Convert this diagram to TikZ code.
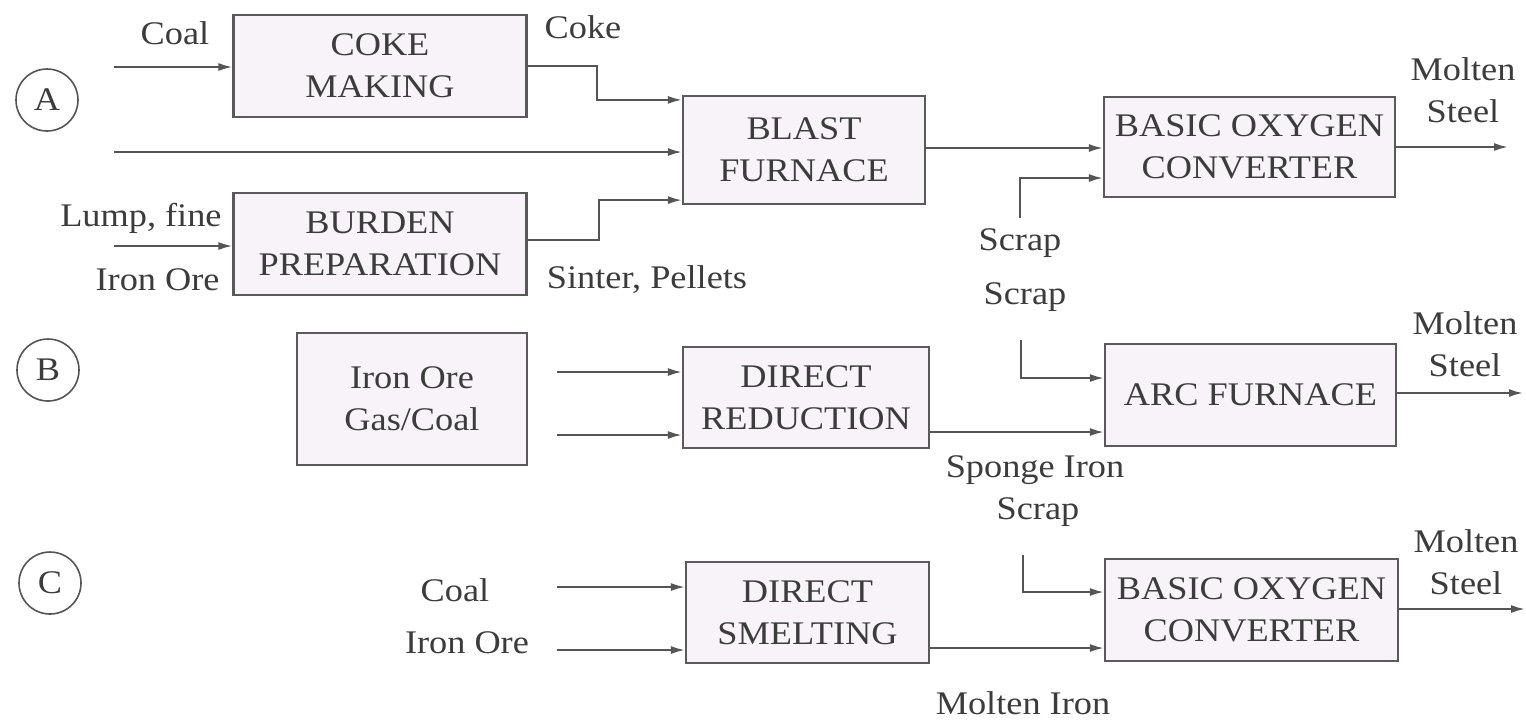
\documentclass[tikz,border=0pt]{standalone}
\usepackage{fontspec}
\setmainfont{Liberation Serif}[FakeStretch=1.1]
\usetikzlibrary{arrows.meta,calc}
\definecolor{txt}{HTML}{3C3C3C}
\definecolor{linec}{HTML}{555555}
\definecolor{boxc}{HTML}{5A5A5A}
\definecolor{boxfill}{HTML}{F7F3F8}
\newcommand\diafont{\fontsize{16.5}{21}\selectfont}
\begin{document}
\begin{tikzpicture}[x=0.5pt,y=-0.5pt,
  proc/.style={draw=boxc, fill=boxfill, line width=1.1pt, align=center, inner sep=0pt, font=\diafont, text=txt},
  lab/.style={text=txt, font=\diafont, align=center, inner sep=0pt},
  arr/.style={draw=linec, line width=1pt, -{Latex[length=7pt,width=4pt]}},
  circ/.style={circle, draw=linec, line width=0.8pt, minimum size=31pt, inner sep=0pt, font=\diafont, text=txt}]
\useasboundingbox (0,0) rectangle (1526,720);
\fill[white] (0,0) rectangle (1526,720);

% ---------- circles ----------
\node[circ] (cA) at (47,100) {A};
\node[circ] (cB) at (48,370) {B};
\node[circ] (cC) at (50,583) {C};

% ---------- boxes ----------
\node[proc, minimum width=146.5pt, minimum height=51pt] (coke) at (380,66) {COKE\\MAKING};
\node[proc, minimum width=146.5pt, minimum height=51pt] (burden) at (380,244) {BURDEN\\PREPARATION};
\node[proc, minimum width=121pt, minimum height=54pt] (blast) at (804,150) {BLAST\\FURNACE};
\node[proc, minimum width=145.5pt, minimum height=50pt] (boc1) at (1249.5,147) {BASIC OXYGEN\\CONVERTER};
\node[proc, minimum width=115pt, minimum height=66pt] (ore) at (412,399) {Iron Ore\\Gas/Coal};
\node[proc, minimum width=123pt, minimum height=50.5pt] (dr) at (806,397.5) {DIRECT\\REDUCTION};
\node[proc, minimum width=145.5pt, minimum height=51pt] (arc) at (1250.5,395) {ARC FURNACE};
\node[proc, minimum width=121.5pt, minimum height=50.5pt] (ds) at (807.5,612.5) {DIRECT\\SMELTING};
\node[proc, minimum width=146.5pt, minimum height=51pt] (boc2) at (1251.5,610) {BASIC OXYGEN\\CONVERTER};

% ---------- labels ----------
\node[lab] (lcoal) at (175,33) {Coal};
\node[lab] (lcoke) at (583,27) {Coke};
\node[lab, anchor=east] (llump) at (222,218) {Lump, fine};
\node[lab, anchor=east] (liron) at (220,280) {Iron Ore};
\node[lab] (lsinter) at (647,280) {Sinter, Pellets};
\node[lab] (lscrap1) at (1020,243) {Scrap};
\node[lab] (lscrap2) at (1025,297) {Scrap};
\node[lab] (lmolt1) at (1463,90) {Molten\\Steel};
\node[lab] (lmolt2) at (1465,344) {Molten\\Steel};
\node[lab] (lmolt3) at (1466,562) {Molten\\Steel};
\node[lab] (lsponge) at (1035,470) {Sponge Iron};
\node[lab] (lscrap3) at (1038,512) {Scrap};
\node[lab] (lcoalC) at (455,590) {Coal};
\node[lab] (lironC) at (467,643) {Iron Ore};
\node[lab] (lmoltiron) at (1023,703) {Molten Iron};

% ---------- free ends ----------
\coordinate (inCoal) at (114,67);
\coordinate (inMid) at (114,152);
\coordinate (inLump) at (114,246);
\coordinate (scrapA) at (1020,218);
\coordinate (out1) at (1508,147);
\coordinate (inB1) at (557,372);
\coordinate (inB2) at (557,435);
\coordinate (scrapB) at (1021,340);
\coordinate (out2) at (1523,393);
\coordinate (inC1) at (557,587);
\coordinate (inC2) at (557,650);
\coordinate (scrapC) at (1023,555);
\coordinate (out3) at (1525,609);

% ---------- connectors: route A ----------
\draw[arr] (inCoal) -- (inCoal -| coke.west);
\draw[arr] (inLump) -- (inLump -| burden.west);
\draw[arr] (coke.east) -- (597,66) |- ($(blast.north west)+(0,5)$);
\draw[arr] (inMid) -- (inMid -| blast.west);
\draw[arr] ($(burden.east)+(0,-4)$) -- (599,240) |- ($(blast.south west)+(0,-5)$);
\draw[arr] (blast.east |- 0,148) -- (boc1.west |- 0,148);
\draw[arr] (scrapA) |- (boc1.west |- 0,178);
\draw[arr] (boc1.east) -- (out1);

% ---------- route B ----------
\draw[arr] (inB1) -- (inB1 -| dr.west);
\draw[arr] (inB2) -- (inB2 -| dr.west);
\draw[arr] (dr.east |- 0,432) -- (arc.west |- 0,432);
\draw[arr] (scrapB) |- (arc.west |- 0,378);
\draw[arr] (arc.east |- out2) -- (out2);

% ---------- route C ----------
\draw[arr] (inC1) -- (inC1 -| ds.west);
\draw[arr] (inC2) -- (inC2 -| ds.west);
\draw[arr] (ds.east |- 0,648) -- (boc2.west |- 0,648);
\draw[arr] (scrapC) |- (boc2.west |- 0,592);
\draw[arr] (boc2.east |- out3) -- (out3);
\end{tikzpicture}
\end{document}
